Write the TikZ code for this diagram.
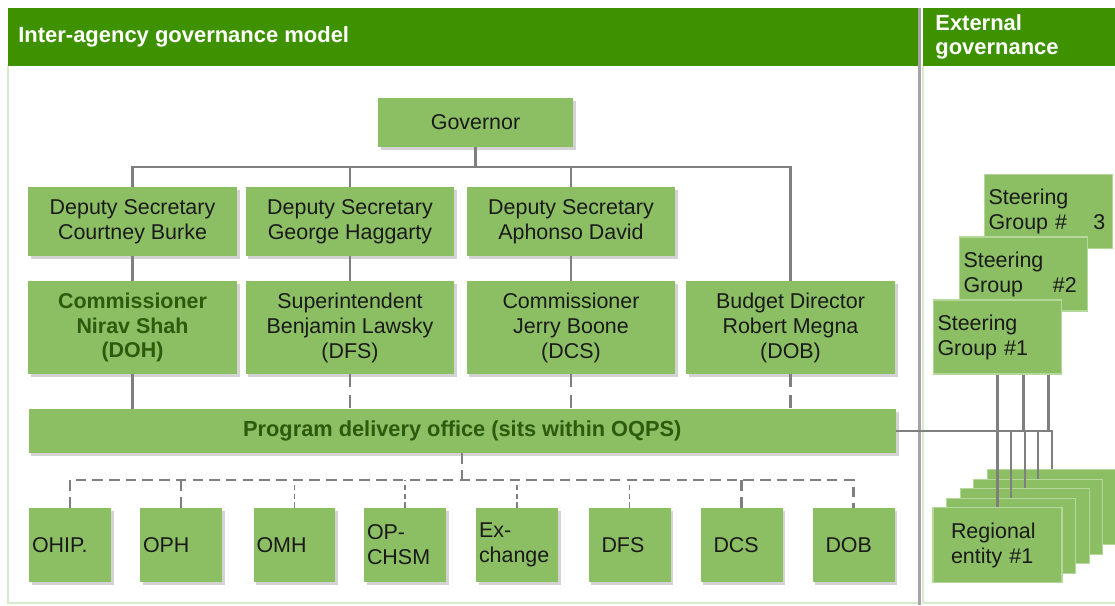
\documentclass[tikz,border=0pt]{standalone}
\usepackage{fontspec}
\setmainfont{Liberation Sans}
\usetikzlibrary{positioning,shadows}
\definecolor{boxgreen}{HTML}{8CBF64}
\definecolor{headgreen}{HTML}{3E9200}
\definecolor{txtgreen}{HTML}{2D5A0C}
\definecolor{textdark}{HTML}{1A1A1A}
\definecolor{linegray}{HTML}{7F7F7F}
\definecolor{framegreen}{HTML}{D6EBCB}
\definecolor{rimgreen}{HTML}{B4D89A}

\begin{document}
\begin{tikzpicture}[x=0.02cm,y=-0.02cm,font=\fontsize{12.2}{14.2}\selectfont,
    conn/.style={draw=linegray,line width=1.2pt},
    dconn/.style={conn,dash pattern=on 7pt off 5pt},
    bus/.style={conn,dash pattern=on 6pt off 3.5pt},
    thindash/.style={draw=linegray,line width=0.6pt,dash pattern=on 3pt off 2pt},
    box/.style={fill=boxgreen,text=textdark,inner sep=0pt,align=center,
      drop shadow={shadow xshift=1.6pt,shadow yshift=-1.6pt,opacity=0.35}},
    govbox/.style={box,minimum width=3.9cm,minimum height=0.98cm},
    dep/.style={box,minimum width=4.18cm,minimum height=1.38cm},
    chief/.style={box,minimum width=4.18cm,minimum height=1.86cm},
    office/.style={box,minimum width=1.64cm,minimum height=1.48cm,inner xsep=1.7pt,text width=1.52cm,align=left},
    officew/.style={office,inner xsep=7.4pt,text width=1.12cm},
    steer/.style={fill=boxgreen,draw=rimgreen,line width=0.6pt,text=textdark,minimum width=2.56cm,
      minimum height=1.48cm,inner xsep=2pt,text width=2.4cm,align=left},
    region/.style={steer,minimum width=2.58cm,minimum height=1.5cm},
    banner/.style={text=white,inner sep=0pt,font=\fontsize{12.5}{13.8}\selectfont\bfseries,align=left}]
  \useasboundingbox (0,0) rectangle (1115,605);

  % panels
  \fill[headgreen] (8,8) rectangle (918,66);
  \fill[headgreen] (923,8) rectangle (1115,66);
  \draw[framegreen,line width=0.8pt] (8,66) -- (8,603) -- (918,603);
  \draw[framegreen,line width=0.8pt] (923,66) -- (923,603) -- (1115,603);
  \draw[linegray!70,line width=1.3pt] (919.5,8) -- (919.5,605);
  \node[banner,anchor=west] (ltitle) at (18,37) {Inter-agency governance model};
  \node[banner,anchor=west] (rtitle) at (935,37) {External\\governance};

  % inter-agency tree
  \node[govbox] (gov) at (475.5,122.5) {Governor};
  \node[dep] (d1) at (132.5,221.5) {Deputy Secretary\\Courtney Burke};
  \node[dep] (d2) at (350,221.5) {Deputy Secretary\\George Haggarty};
  \node[dep] (d3) at (571,221.5) {Deputy Secretary\\Aphonso David};
  \node[chief,text=txtgreen,font=\fontsize{12.2}{14.2}\selectfont\bfseries] (c1) at (132.5,327.5) {Commissioner\\Nirav Shah\\(DOH)};
  \node[chief] (c2) at (350,327.5) {Superintendent\\Benjamin Lawsky\\(DFS)};
  \node[chief] (c3) at (571,327.5) {Commissioner\\Jerry Boone\\(DCS)};
  \node[chief] (c4) at (790.5,327.5) {Budget Director\\Robert Megna\\(DOB)};
  \node[box,minimum width=17.35cm,minimum height=0.88cm,text=txtgreen,font=\fontsize{12.4}{14}\selectfont\bfseries] (pdo) at (462.3,431) {Program delivery office (sits within OQPS)};

  \node[office] (u1) at (70,545) {OHIP.};
  \node[office] (u2) at (181,545) {OPH};
  \node[office] (u3) at (294.5,545) {OMH};
  \node[office] (u4) at (405,545) {OP-\\CHSM};
  \node[office] (u5) at (517,545) {Ex-\\change};
  \node[officew] (u6) at (629.5,545) {DFS};
  \node[officew] (u7) at (741.5,545) {DCS};
  \node[officew] (u8) at (853.5,545) {DOB};

  \coordinate (top) at (0,167);
  \coordinate (busy) at (0,480);
  \draw[conn] (gov.south) -- (gov.south |- top);
  \draw[conn] (d1.north) |- (c4.north |- top) -- (c4.north);
  \draw[conn] (d2.north) -- (d2.north |- top);
  \draw[conn] (d3.north) -- (d3.north |- top);
  \draw[conn] (d1) -- (c1);
  \draw[conn] (d2) -- (c2);
  \draw[conn] (d3) -- (c3);
  \draw[conn] (c1.south) -- (c1.south |- pdo.north);
  \draw[dconn] (c2.south) -- (c2.south |- pdo.north);
  \draw[dconn] (c3.south) -- (c3.south |- pdo.north);
  \draw[dconn] (c4.south) -- (c4.south |- pdo.north);

  \draw[bus] (pdo.south) -- (pdo.south |- busy);
  \draw[bus] (u1.north) -- (u1.north |- busy) -- (u8.north |- busy) -- (u8.north);
  \draw[bus] (u2.north) -- (u2.north |- busy);
  \draw[bus] (u7.north) -- (u7.north |- busy);
  \foreach \u in {u3,u4,u5,u6}
    \draw[thindash] (\u.north) -- (\u.north |- busy);

  % external governance
  \node[steer] (sg3) at (1048.5,211.5) {Steering\\Group \#\hspace{15pt}3};
  \node[steer] (sg2) at (1023.5,274) {Steering\\Group\hspace{17pt}\#2};
  \node[steer] (sg1) at (997.5,337) {Steering\\Group \#1};
  \foreach \i in {4,3,2,1}
    \node[region] (r\i) at ({997.5+13.6*\i},{545-9.4*\i}) {};
  \node[region,inner xsep=10pt,text width=1.86cm] (r0) at (997.5,545) {Regional\\entity \#1};

  \draw[conn] (pdo.east) -| (r4.north);
  \foreach \i in {1,2,3}
    \draw[conn] (r\i.north) -- (r\i.north |- pdo.east);
  \draw[conn] (sg1.south) -- (r0.north);
  \draw[conn] (sg2.south |- sg1.south) -- (sg2.south |- pdo.east);
  \draw[conn] (sg3.south |- sg1.south) -- (sg3.south |- pdo.east);
\end{tikzpicture}
\end{document}
